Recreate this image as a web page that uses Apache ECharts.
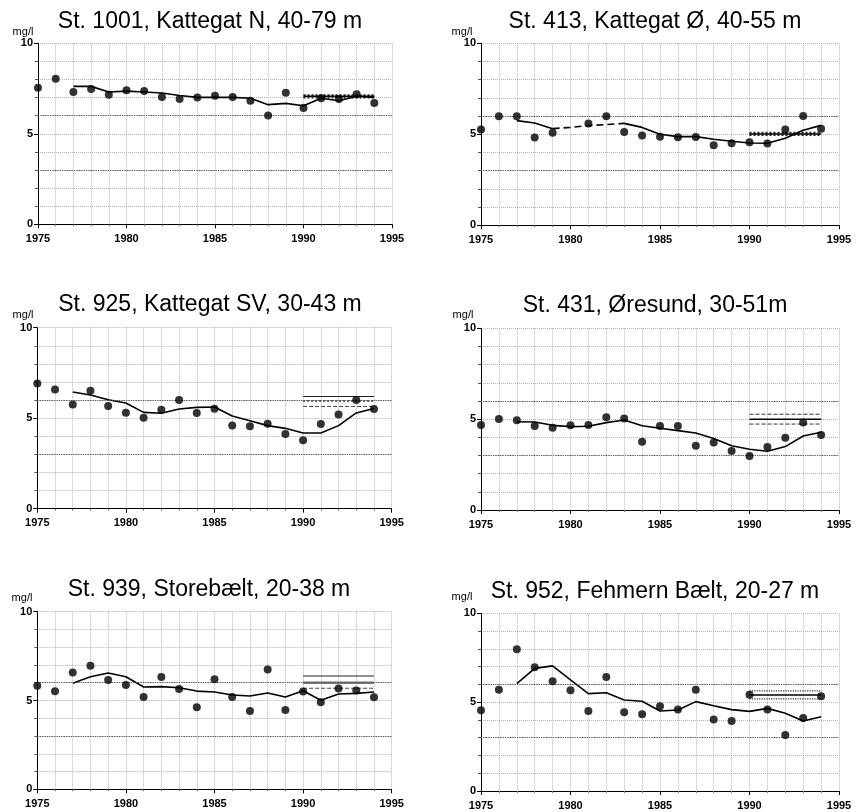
<!DOCTYPE html>
<html>
<head>
<meta charset="utf-8">
<script src="https://cdn.jsdelivr.net/npm/echarts@6/dist/echarts.min.js"></script>
<style>
html,body{margin:0;padding:0;background:#fff;}
#c{width:859px;height:812px;}
</style>
</head>
<body>
<div id="c"></div>
<script>
const years = [1975,1976,1977,1978,1979,1980,1981,1982,1983,1984,1985,1986,1987,1988,1989,1990,1991,1992,1993,1994];
const titles = ["St. 1001, Kattegat N, 40-79 m","St. 413, Kattegat Ø, 40-55 m","St. 925, Kattegat SV, 30-43 m","St. 431, Øresund, 30-51m","St. 939, Storebælt, 20-38 m","St. 952, Fehmern Bælt, 20-27 m"];
const unitLabel = "mg/l";
const xTicks = [1975,1980,1985,1990,1995];
const yTicks = [0,5,10];
const refYears = [1990,1994];
const guideLevels = [3,6];

// Panel 1: St. 1001
const obs1 = [7.55,8.04,7.31,7.47,7.16,7.40,7.36,7.03,6.92,7.01,7.10,7.03,6.83,6.01,7.27,6.42,6.97,6.92,7.18,6.70];
const trend1 = [null,null,7.62,7.62,7.31,7.36,7.31,7.25,7.12,7.01,7.01,7.01,6.96,6.61,6.68,6.55,6.96,6.83,7.08,7.01];
const dash1 = [];
const ref1 = [7.13,7.07,7.01];
// Panel 2: St. 413
const obs2 = [5.27,5.99,5.99,4.82,5.09,null,5.60,5.99,5.13,4.93,4.87,4.84,4.85,4.40,4.51,4.56,4.49,5.27,6.01,5.31];
const trend2 = [null,null,5.75,5.62,5.31,null,null,null,5.60,5.38,5.00,4.87,4.87,4.73,4.62,4.52,4.51,4.78,5.22,5.49];
const dash2 = [null,null,null,null,5.31,5.38,5.48,5.53,5.60,null,null,null,null,null,null,null,null,null,null,null];
const ref2 = [5.08,5.02,4.96];
// Panel 3: St. 925
const obs3 = [6.92,6.59,5.76,6.52,5.67,5.30,5.03,5.47,6.00,5.29,5.52,4.60,4.55,4.70,4.13,3.78,4.68,5.21,6.00,5.51];
const trend3 = [null,null,6.45,6.28,6.02,5.84,5.32,5.27,5.51,5.60,5.62,5.12,4.86,4.59,4.44,4.18,4.18,4.59,5.29,5.54];
const dash3 = [];
const ref3 = [6.2,5.95,5.65];
// Panel 4: St. 431
const obs4 = [4.68,5.01,4.94,4.62,4.53,4.66,4.68,5.10,5.03,3.76,4.62,4.62,3.54,3.71,3.25,2.97,3.47,3.98,4.81,4.13];
const trend4 = [null,null,4.86,4.84,4.66,4.59,4.61,4.81,4.95,4.64,4.50,4.37,4.24,3.94,3.54,3.34,3.23,3.49,4.07,4.28];
const dash4 = [];
const ref4 = [5.27,4.99,4.73];
// Panel 5: St. 939
const obs5 = [5.83,5.52,6.57,6.96,6.15,5.87,5.20,6.32,5.65,4.62,6.19,5.20,4.41,6.74,4.47,5.50,4.90,5.67,5.57,5.18];
const trend5 = [null,null,5.97,6.34,6.55,6.34,5.76,5.78,5.72,5.53,5.48,5.31,5.25,5.42,5.20,5.55,5.01,5.37,5.40,5.48];
const dash5 = [];
const ref5 = [6.38,6.0,5.69];
// Panel 6: St. 952
const obs6 = [4.54,5.70,7.97,6.96,6.17,5.67,4.50,6.42,4.43,4.32,4.77,4.58,5.70,4.03,3.94,5.42,4.58,3.15,4.11,5.33];
const trend6 = [null,null,6.04,6.90,7.04,6.25,5.48,5.53,5.12,5.05,4.50,4.56,5.03,4.80,4.58,4.48,4.65,4.37,3.94,4.18];
const dash6 = [];
const ref6 = [5.63,5.40,5.18];

const allObs = [obs1,obs2,obs3,obs4,obs5,obs6];
const allTrend = [trend1,trend2,trend3,trend4,trend5,trend6];
const allDash = [dash1,dash2,dash3,dash4,dash5,dash6];
const allRef = [ref1,ref2,ref3,ref4,ref5,ref6];

// layout (pixels)
const grids = [
  {left:38, top:43.3, width:354, height:181},
  {left:481, top:43.3, width:358, height:182},
  {left:37.3, top:327.7, width:354.4, height:181},
  {left:481, top:328.3, width:358, height:181.7},
  {left:37.3, top:611.7, width:354.4, height:177.6},
  {left:481, top:613.3, width:358, height:177.7}
];
const titlePos = [[210,22],[655,22],[210,305],[655,306],[209,590],[655,592]];
const unitPos = [[23,32],[462,32],[23,315],[463,315],[22,598],[462,597]];
// ref-line styles per panel: [upper, mean, lower]
const refStyles = [
  [{type:'dotted',width:2,color:'#222'},{type:'solid',width:1.5,color:'#000'},{type:'dotted',width:2,color:'#222'}],
  [{type:'dotted',width:2,color:'#222'},{type:'solid',width:1.5,color:'#000'},{type:'dotted',width:2,color:'#222'}],
  [{type:'solid',width:1.2,color:'#222'},{type:'dotted',width:2,color:'#666'},{type:'dashed',width:1,color:'#444'}],
  [{type:'dashed',width:1,color:'#333'},{type:'solid',width:1.5,color:'#000'},{type:'dashed',width:1,color:'#333'}],
  [{type:'solid',width:1.2,color:'#222'},{type:'solid',width:2.5,color:'#777'},{type:'dashed',width:1,color:'#444'}],
  [{type:'dotted',width:1.2,color:'#333'},{type:'solid',width:1.5,color:'#000'},{type:'dotted',width:1.2,color:'#333'}]
];

const FONT = '"Liberation Sans", Arial, Helvetica, sans-serif';
const faint = {show:true, lineStyle:{color:'#b5b5b5', type:'dotted', width:1}};

const option = {
  animation:false,
  backgroundColor:'#fff',
  grid: grids.map(g => Object.assign({containLabel:false}, g)),
  xAxis: grids.map((g,i) => ({
    type:'value', gridIndex:i, min:xTicks[0], max:xTicks[xTicks.length-1], interval:5,
    axisLine:{show:true, onZero:false, lineStyle:{color:'#000', width:1}},
    axisTick:{show:true, length:4, lineStyle:{color:'#000'}},
    minorTick:{show:true, splitNumber:5, length:2, lineStyle:{color:'#777'}},
    splitLine:faint, minorSplitLine:faint,
    axisLabel:{color:'#000', fontFamily:FONT, fontSize:11, fontWeight:'bold', margin:9,
      formatter: v => xTicks.includes(v) ? String(v) : ''}
  })),
  yAxis: grids.map((g,i) => ({
    type:'value', gridIndex:i, min:yTicks[0], max:yTicks[yTicks.length-1], interval:5,
    axisLine:{show:true, onZero:false, lineStyle:{color:'#000', width:1}},
    axisTick:{show:true, length:4, lineStyle:{color:'#000'}},
    minorTick:{show:true, splitNumber:5, length:3, lineStyle:{color:'#555'}},
    splitLine:faint, minorSplitLine:faint,
    axisLabel:{color:'#000', fontFamily:FONT, fontSize:11, fontWeight:'bold', margin:5,
      formatter: v => yTicks.includes(v) ? String(v) : ''}
  })),
  graphic: [].concat(
    titles.map((t,i) => ({type:'text', x:titlePos[i][0], y:titlePos[i][1], silent:true,
      style:{text:t, fontFamily:FONT, fontSize:23, fill:'#000', align:'center', verticalAlign:'middle'}})),
    unitPos.map(p => ({type:'text', x:p[0], y:p[1], silent:true,
      style:{text:unitLabel, fontFamily:FONT, fontSize:11, fill:'#000', align:'center', verticalAlign:'middle'}}))
  ),
  series: []
};

for (let i = 0; i < 6; i++) {
  // guide lines at 3 and 6 mg/l
  option.series.push({
    type:'line', xAxisIndex:i, yAxisIndex:i, data:[], silent:true,
    markLine:{silent:true, symbol:'none', label:{show:false},
      lineStyle:{color:'#555', type:'dotted', width:1.2},
      data: guideLevels.map(l => ({yAxis:l}))}
  });
  // reference band lines 1990-1994
  allRef[i].forEach((v,k) => {
    option.series.push({
      type:'line', xAxisIndex:i, yAxisIndex:i, silent:true, showSymbol:false, z:3,
      data: refYears.map(y => [y, v]),
      lineStyle: refStyles[i][k]
    });
  });
  // smoothed trend
  option.series.push({
    type:'line', xAxisIndex:i, yAxisIndex:i, silent:true, showSymbol:false, connectNulls:false, z:4,
    data: years.map((y,j) => [y, allTrend[i][j]]),
    lineStyle:{color:'#000', width:1.6}
  });
  if (allDash[i].length) {
    option.series.push({
      type:'line', xAxisIndex:i, yAxisIndex:i, silent:true, showSymbol:false, connectNulls:false, z:4,
      data: years.map((y,j) => [y, allDash[i][j]]),
      lineStyle:{color:'#000', width:1.6, type:[7,4]}
    });
  }
  // observations
  option.series.push({
    type:'scatter', xAxisIndex:i, yAxisIndex:i, silent:true, z:5, symbolSize:8,
    itemStyle:{color:'#000'},
    data: years.map((y,j) => [y, allObs[i][j]]).filter(d => d[1] !== null)
  });
}

const chart = echarts.init(document.getElementById('c'), null, {renderer:'canvas'});
chart.setOption(option);
</script>
</body>
</html>
